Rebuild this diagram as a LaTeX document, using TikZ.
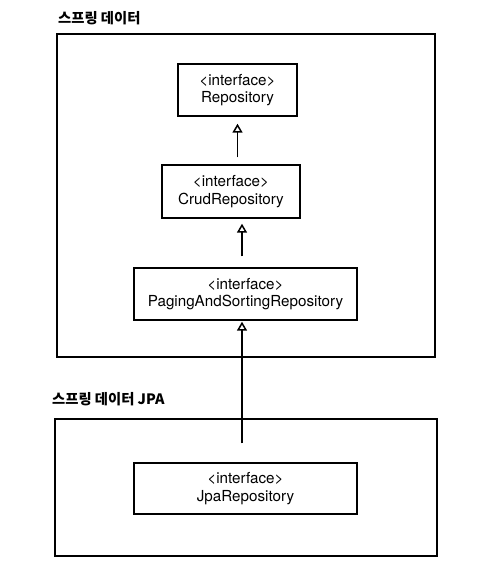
\documentclass[tikz,border=0pt]{standalone}
\usepackage{fontspec}
\setmainfont{TeX Gyre Heros}
\newfontfamily\kofont{Noto Sans CJK KR}
\usetikzlibrary{arrows.meta}
\begin{document}
\begin{tikzpicture}[x=1pt,y=-1pt,
 inherit/.style={-{Triangle[open,length=9pt,width=10pt]},line width=1.5pt},
 iface/.style={draw,line width=1.4pt,align=center,inner sep=0pt,
  font=\fontsize{15.2}{17.5}\selectfont},
 module/.style={draw,line width=1.7pt,inner sep=0pt},
 modlabel/.style={anchor=south west,inner sep=0pt,font=\kofont\bfseries\fontsize{14.3}{16}\selectfont}]
 \useasboundingbox (0,0) rectangle (489,584);
 % spring data module
 \node[module,minimum width=378pt,minimum height=323pt] (spring) at (246,195.5) {};
 \node[modlabel] (springlbl) at (58,25) {스프링 데이터};
 \node[iface,minimum width=119pt,minimum height=52pt] (repo) at (237.5,90)
 {<interface>\\Repository};
 \node[iface,minimum width=138pt,minimum height=53pt] (crud) at (231,191.5)
 {<interface>\\CrudRepository};
 \node[iface,minimum width=223pt,minimum height=52pt] (paging) at (245.5,294)
 {<interface>\\PagingAndSortingRepository};
 % spring data jpa module
 \node[module,minimum width=382pt,minimum height=137pt] (jpa) at (246,487.5) {};
 \node[modlabel] (jpalbl) at (52,406) {스프링 데이터 JPA};
 \node[iface,minimum width=223pt,minimum height=51pt] (jparepo) at (245.5,488.5)
 {<interface>\\JpaRepository};
 % inheritance
 \draw[inherit,shorten <=7pt,shorten >=7pt] (crud.north -| repo.south) -- (repo.south);
 \draw[inherit,shorten <=11pt,shorten >=5pt] ([xshift=-3.5pt]paging.north) -- ([xshift=-3.5pt]paging.north |- crud.south);
 \draw[inherit,shorten <=19pt,shorten >=1pt] ([xshift=-3.5pt]jparepo.north) -- ([xshift=-3.5pt]paging.south);
\end{tikzpicture}
\end{document}
